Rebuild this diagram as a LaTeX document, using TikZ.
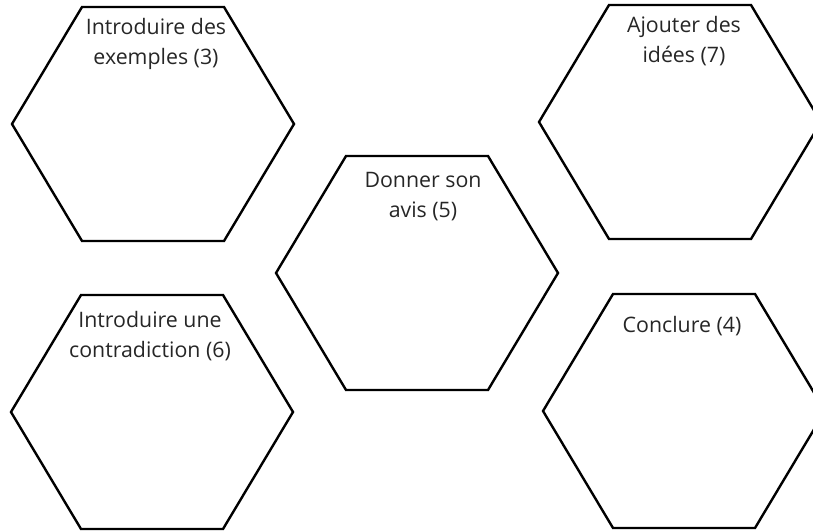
\documentclass[tikz,border=0pt]{standalone}
\usepackage{fontspec}
\setmainfont{Open Sans}
\tikzset{
  hexa/.style={line width=1.8pt, line join=miter},
  etiquette/.style={font=\fontsize{16}{22.5}\selectfont, align=center,
                    anchor=base, inner sep=0pt, text=black!85}
}
\begin{document}
\begin{tikzpicture}[x=0.75pt,y=-0.75pt]
                    \useasboundingbox (0,0) rectangle (813,531);

                    \foreach \nom/\cx/\cy in {ex/153/124, avis/417/273, idees/680/122, contra/152/412, concl/684/411}{
                      \coordinate (\nom) at (\cx,\cy);
                      \draw[hexa] (\nom) ++(-141,0) -- ++(70,-117) -- ++(142,0) -- ++(70,117)
                                  -- ++(-70,117) -- ++(-142,0) -- cycle;
                    }

                    \node[etiquette] (t-ex) at (156,65) {Introduire des\\exemples (3)};
                    \node[etiquette] (t-avis) at (423,217) {Donner son\\avis (5)};
                    \node[etiquette] (t-idees) at (684,63) {Ajouter des\\idées (7)};
                    \node[etiquette] (t-contra) at (150,357) {Introduire une\\contradiction (6)};
                    \node[etiquette] (t-concl) at (682,332) {Conclure (4)};
                \end{tikzpicture}
\end{document}
